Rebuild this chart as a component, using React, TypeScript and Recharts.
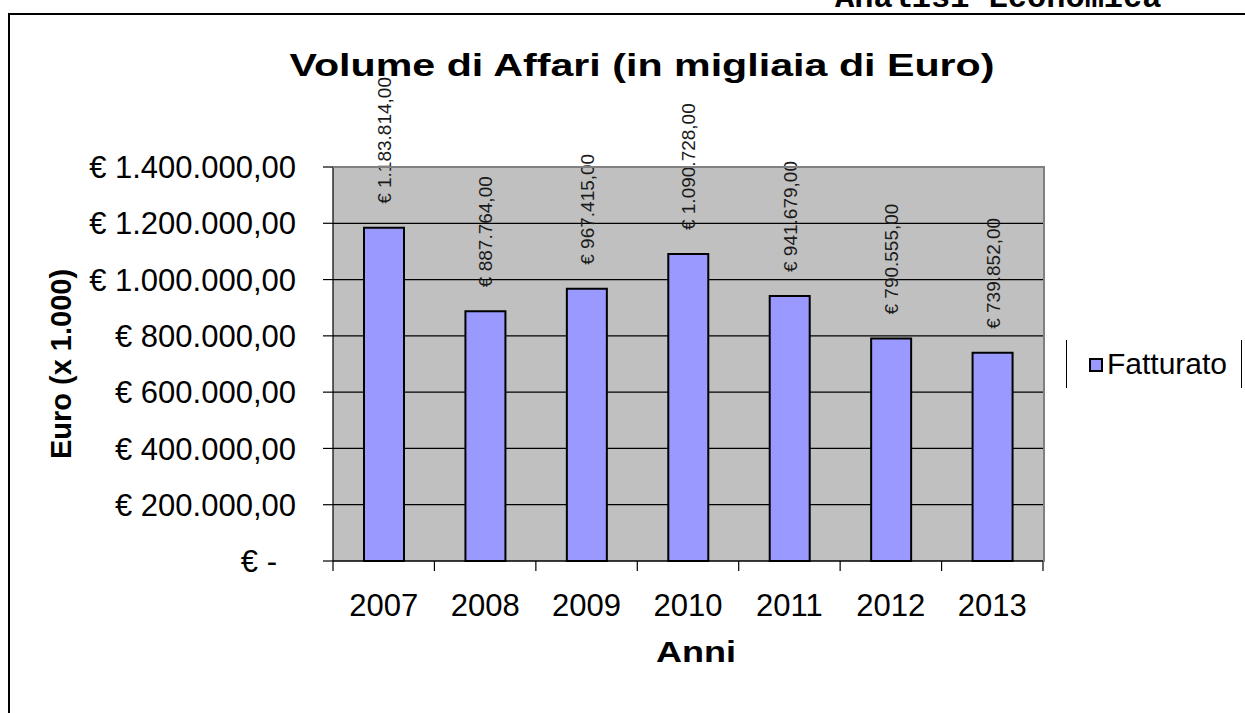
import { BarChart, Bar, XAxis, YAxis, CartesianGrid, LabelList, Label, Legend } from 'recharts';

// Volume di affari per anno
const YEARS = ['2007', '2008', '2009', '2010', '2011', '2012', '2013'];
const FATTURATO = [1183814, 887764, 967415, 1090728, 941679, 790555, 739852];
const Y_TICKS = [0, 200000, 400000, 600000, 800000, 1000000, 1200000, 1400000];
const SERIES_NAME = 'Fatturato';

const data = YEARS.map((anno, i) => ({ anno, fatturato: FATTURATO[i] }));

const W = 1245;
const H = 713;
const PLOT = { left: 333, right: 1043, top: 167, bottom: 561 };
const BAND = (PLOT.right - PLOT.left) / YEARS.length;
const FONT = '"Liberation Sans", Arial, sans-serif';
const BAR_FILL = '#9999FF';

function euro(v: number): string {
  if (v === 0) return '€ -';
  const s = String(Math.round(v)).replace(/\B(?=(\d{3})+(?!\d))/g, '.');
  return `€ ${s},00`;
}

function YTick({ x, y, payload }: any) {
  const v = payload.value;
  return (
    <text x={v === 0 ? x - 19 : x} y={y} dy="0.36em" textAnchor="end"
      fontSize={31} fontFamily={FONT} fill="#000">
      {euro(v)}
    </text>
  );
}

function XTick({ x, y, payload, index }: any) {
  const half = BAND / 2;
  return (
    <g>
      <line x1={x - half} x2={x - half} y1={y} y2={y + 10} stroke="#000" strokeWidth={1.2} />
      {index === YEARS.length - 1 && (
        <line x1={x + half} x2={x + half} y1={y} y2={y + 10} stroke="#000" strokeWidth={1.2} />
      )}
      <text x={x} y={y + 55} textAnchor="middle" fontSize={31} fontFamily={FONT} fill="#000">
        {payload.value}
      </text>
    </g>
  );
}

function BarValue({ x, y, width, value }: any) {
  const bx = x + width / 2 + 7;
  const by = y - 24;
  return (
    <text x={bx} y={by} transform={`rotate(-90, ${bx}, ${by})`} textAnchor="start"
      fontSize={19} fontFamily={FONT} fill="#1a1a1a">
      {euro(value)}
    </text>
  );
}

function YTitle({ viewBox }: any) {
  const cx = 71;
  const cy = viewBox.y + viewBox.height / 2;
  return (
    <text x={cx} y={cy} transform={`rotate(-90, ${cx}, ${cy})`} textAnchor="middle"
      fontSize={29} fontWeight="bold" fontFamily={FONT} fill="#000">
      Euro (x 1.000)
    </text>
  );
}

function XTitle({ viewBox }: any) {
  const cx = viewBox.x + viewBox.width / 2 + 8;
  return (
    <text x={cx} y={662} textAnchor="middle" fontSize={30} fontWeight="bold"
      fontFamily={FONT} fill="#000" textLength={80} lengthAdjust="spacingAndGlyphs">
      Anni
    </text>
  );
}

function LegendBox() {
  return (
    <div style={{
      width: 176, height: 48, borderLeft: '1.5px solid #000', borderRight: '1.5px solid #000',
      position: 'relative', fontFamily: FONT, boxSizing: 'border-box',
    }}>
      <div style={{
        position: 'absolute', left: 22, top: 18, width: 14, height: 14,
        background: BAR_FILL, border: '2px solid #000', boxSizing: 'border-box',
      }} />
      <div style={{ position: 'absolute', left: 40, top: 6, fontSize: 30, lineHeight: '36px', color: '#000' }}>
        {SERIES_NAME}
      </div>
    </div>
  );
}

export default function App() {
  return (
    <div style={{ position: 'absolute', left: 0, top: 0, width: W, height: H, background: '#fff', overflow: 'hidden' }}>
      {/* cornice della pagina */}
      <div style={{
        position: 'absolute', left: 8, top: 13, width: W, height: H,
        borderLeft: '2px solid #000', borderTop: '2px solid #000',
      }} />
      <svg width={W} height={100} style={{ position: 'absolute', left: 0, top: 0 }}>
        <text x={835} y={7} fontSize={32} fontWeight="bold" fontFamily='"Liberation Mono", monospace' fill="#000">
          Analisi Economica
        </text>
        <text x={642} y={76} textAnchor="middle" fontSize={32} fontWeight="bold" fontFamily={FONT}
          fill="#000" textLength={705} lengthAdjust="spacingAndGlyphs">
          Volume di Affari  (in migliaia di Euro)
        </text>
      </svg>
      <div style={{ position: 'absolute', left: 0, top: 0 }}>
        <BarChart width={W} height={H} data={data}
          margin={{ top: PLOT.top, right: W - PLOT.right, bottom: H - PLOT.bottom - 100, left: 8 }}>
          <CartesianGrid vertical={false} stroke="#000" strokeWidth={1.2} fill="#C0C0C0" fillOpacity={1} />
          <XAxis dataKey="anno" height={100} tickSize={0} tickMargin={0} tickLine={false}
            axisLine={{ stroke: '#000', strokeWidth: 1.2 }} tick={<XTick />} interval={0}>
            <Label content={<XTitle />} />
          </XAxis>
          <YAxis width={325} domain={[0, 1400000]} ticks={Y_TICKS} interval={0}
            tickSize={10} tickMargin={27} tickLine={{ stroke: '#000', strokeWidth: 1.2 }}
            axisLine={{ stroke: '#000', strokeWidth: 1.2 }} tick={<YTick />}>
            <Label content={<YTitle />} />
          </YAxis>
          <Legend layout="horizontal" align="center" verticalAlign="middle"
            wrapperStyle={{ left: 1066, top: 340, width: 176, height: 48 }}
            content={() => <LegendBox />} />
          <Bar dataKey="fatturato" name={SERIES_NAME} fill={BAR_FILL} stroke="#000" strokeWidth={2}
            barSize={40} isAnimationActive={false}>
            <LabelList dataKey="fatturato" content={<BarValue />} />
          </Bar>
        </BarChart>
      </div>
      {/* bordo dell'area del tracciato */}
      <div style={{
        position: 'absolute', left: PLOT.left, top: PLOT.top - 1, width: PLOT.right - PLOT.left,
        height: PLOT.bottom - PLOT.top, borderTop: '2px solid #808080', borderRight: '2px solid #808080',
        pointerEvents: 'none',
      }} />
    </div>
  );
}
